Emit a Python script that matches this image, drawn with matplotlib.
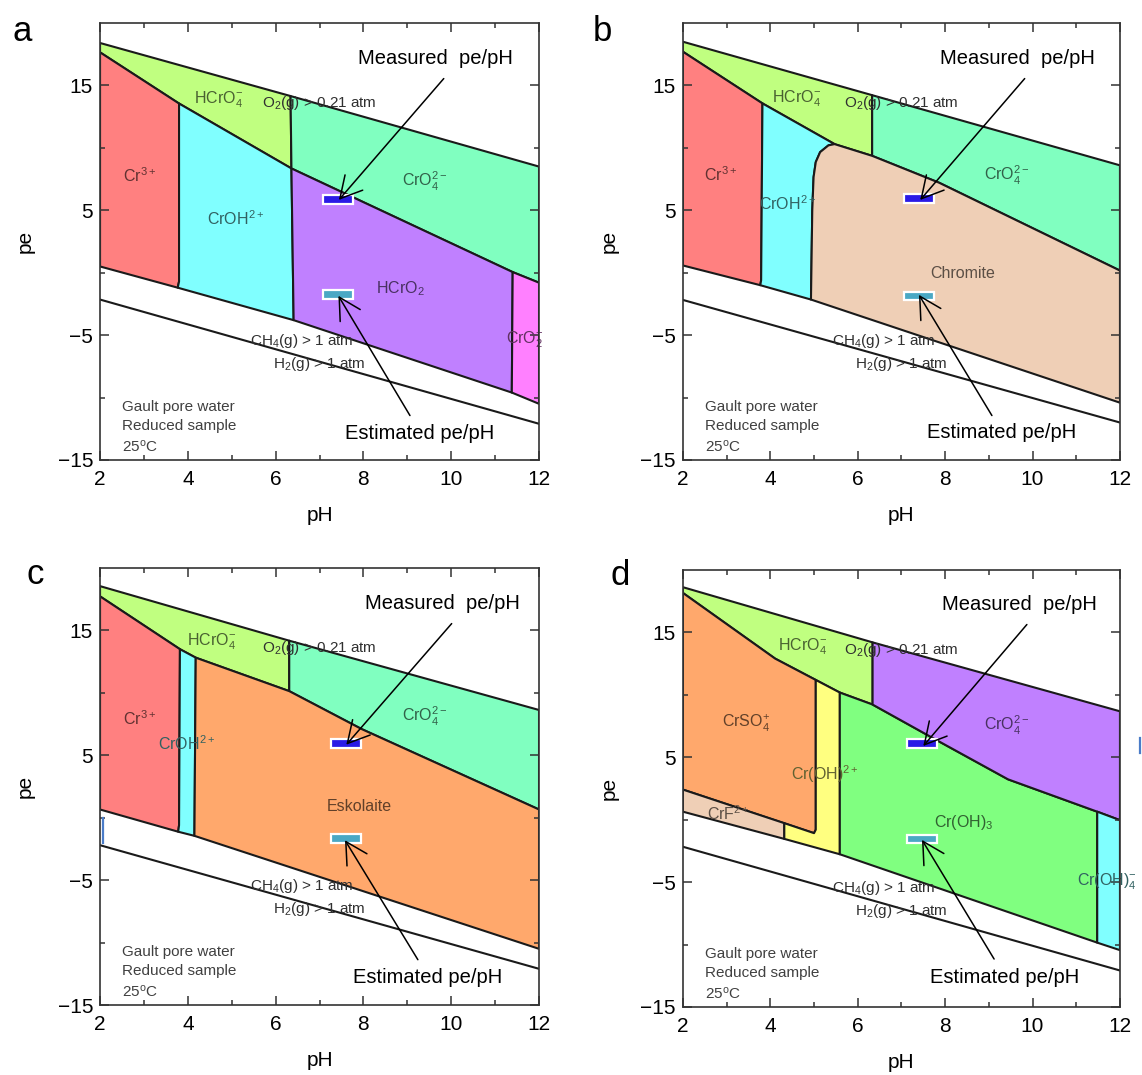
import matplotlib
matplotlib.use('Agg')
import matplotlib.pyplot as plt
import matplotlib.colors as mcolors
from matplotlib.patches import Polygon, Rectangle
from matplotlib.ticker import FixedLocator
from matplotlib.lines import Line2D

plt.rcParams['font.family'] = ['Liberation Sans', 'DejaVu Sans']
plt.rcParams['mathtext.fontset'] = 'custom'
plt.rcParams['mathtext.rm'] = 'Liberation Sans'
plt.rcParams['mathtext.it'] = 'Liberation Sans'
plt.rcParams['mathtext.default'] = 'regular'

# ---------------- axes / ticks ----------------
PH_LIM = (2, 12)
PE_LIM = (-15, 20)
PH_MAJOR = [2, 4, 6, 8, 10, 12]
PH_MINOR = [3, 5, 7, 9, 11]
PE_MAJOR = [-15, -5, 5, 15]
PE_MINOR = [-10, 0, 10]

# ---------------- colours ----------------
C_CR3 = '#FF8080'
C_HCRO4 = '#C0FF80'
C_CROH = '#80FFFF'
C_CRO4 = '#80FFC0'
C_HCRO2 = '#C080FF'
C_CRO2 = '#FF80FF'
C_CHROMITE = '#EFCFB6'
C_ESK = '#FFA86C'
C_CRSO4 = '#FFA86C'
C_CRF = '#EFCFB6'
C_CROH2 = '#FFFF80'
C_CROH3 = '#80FF80'
C_CRO4_D = '#C080FF'
C_CROH4 = '#80FFFF'
C_MEAS = '#2A1AE6'
C_EST = '#4AA8C4'

# ---------------- panel a : field boundaries (pH, pe) ----------------
A_HCRO4 = [(2.0, 18.4), (6.34, 14.15), (6.36, 8.35), (3.8, 13.55), (2.0, 17.65)]
A_CR3 = [(2.0, 17.65), (3.8, 13.55), (3.8, -0.7), (3.77, -1.2), (2.0, 0.5)]
A_CROH = [(3.8, 13.55), (6.36, 8.35), (6.41, -3.8), (3.77, -1.2), (3.8, -0.7)]
A_CRO4 = [(6.34, 14.15), (12.0, 8.5), (12.0, -0.8), (11.4, 0.05), (6.36, 8.35)]
A_HCRO2 = [(6.36, 8.35), (11.4, 0.05), (11.38, -9.6), (6.41, -3.8)]
A_CRO2 = [(11.4, 0.05), (12.0, -0.8), (12.0, -10.5), (11.38, -9.6)]
A_H2 = [(2.0, -2.15), (12.0, -12.1)]

# ---------------- panel b ----------------
B_HCRO4 = [(2.0, 18.5), (6.33, 14.22), (6.33, 9.36), (5.47, 10.3), (3.82, 13.56), (2.0, 17.7)]
B_CR3 = [(2.0, 17.7), (3.82, 13.56), (3.79, -0.6), (3.77, -1.0), (2.0, 0.58)]
B_CROH = [(3.82, 13.56), (5.47, 10.3), (5.33, 10.2), (5.14, 9.66), (5.04, 8.86),
          (4.99, 7.66), (4.96, 5.0), (4.93, -2.15), (3.77, -1.0), (3.79, -0.6)]
B_CRO4 = [(6.33, 14.22), (12.0, 8.6), (12.0, 0.17), (7.86, 7.21), (6.33, 9.36)]
B_CHROMITE = [(5.47, 10.3), (6.33, 9.36), (7.86, 7.21), (12.0, 0.17), (12.0, -10.41),
              (4.93, -2.15), (4.96, 5.0), (4.99, 7.66), (5.04, 8.86), (5.14, 9.66), (5.33, 10.2)]
B_H2 = [(2.0, -2.18), (12.0, -12.0)]

# ---------------- panel c ----------------
C_HCRO4_P = [(2.0, 18.55), (6.31, 14.18), (6.31, 10.14), (4.18, 12.82), (3.82, 13.5), (2.0, 17.73)]
C_CR3_P = [(2.0, 17.73), (3.82, 13.5), (3.8, -0.6), (3.78, -1.12), (2.0, 0.66)]
C_CROH_P = [(3.82, 13.5), (4.18, 12.82), (4.15, -1.45), (3.78, -1.12), (3.8, -0.6)]
C_CRO4_P = [(6.31, 14.18), (12.0, 8.63), (12.0, 0.66), (7.96, 7.1), (6.31, 10.14)]
C_ESK_P = [(4.18, 12.82), (6.31, 10.14), (7.96, 7.1), (12.0, 0.66), (12.0, -10.5), (4.15, -1.45)]
C_H2 = [(2.0, -2.2), (12.0, -12.1)]
C_MARK = [(2.06, 0.0), (2.06, -2.0)]

# ---------------- panel d ----------------
D_HCRO4 = [(2.0, 18.62), (6.34, 14.2), (6.34, 9.22), (5.59, 10.18), (5.04, 11.19), (4.11, 12.9), (2.0, 18.16)]
D_CRSO4 = [(2.0, 18.16), (4.11, 12.9), (5.04, 11.19), (5.04, -0.8), (5.0, -1.08), (2.0, 2.41)]
D_CRF = [(2.0, 2.41), (4.32, -0.28), (4.32, -1.54), (2.0, 0.64)]
D_CROH2 = [(5.04, 11.19), (5.59, 10.18), (5.59, -2.77), (4.32, -1.54), (4.32, -0.28), (5.0, -1.08), (5.04, -0.8)]
D_CROH3 = [(5.59, 10.18), (6.34, 9.22), (7.78, 6.42), (9.44, 3.23), (11.48, 0.64), (11.48, -9.85), (5.59, -2.77)]
D_CRO4 = [(6.34, 14.2), (12.0, 8.68), (12.0, -0.04), (11.48, 0.64), (9.44, 3.23), (7.78, 6.42), (6.34, 9.22)]
D_CROH4 = [(11.48, 0.64), (12.0, -0.04), (12.0, -10.45), (11.48, -9.85)]
D_H2 = [(2.0, -2.17), (12.0, -12.08)]

# ---------------- field labels (text, pH, pe, colour) ----------------
A_LABELS = [(r'Cr$^{3+}$', 2.89, 7.8, C_CR3), (r'CrOH$^{2+}$', 5.08, 4.36, C_CROH),
            (r'HCrO$_4^{-}$', 4.69, 13.84, C_HCRO4), (r'CrO$_4^{2-}$', 9.39, 7.35, C_CRO4),
            (r'HCrO$_2$', 8.83, -1.27, C_HCRO2), (r'CrO$_2^{-}$', 11.67, -5.36, C_CRO2)]
B_LABELS = [(r'Cr$^{3+}$', 2.86, 7.82, C_CR3), (r'CrOH$^{2+}$', 4.4, 5.55, C_CROH),
            (r'HCrO$_4^{-}$', 4.61, 13.92, C_HCRO4), (r'CrO$_4^{2-}$', 9.4, 7.82, C_CRO4),
            ('Chromite', 8.4, -0.06, C_CHROMITE)]
C_LABELS = [(r'Cr$^{3+}$', 2.89, 7.9, C_CR3), (r'CrOH$^{2+}$', 3.96, 5.93, C_CROH),
            (r'HCrO$_4^{-}$', 4.54, 14.1, C_HCRO4), (r'CrO$_4^{2-}$', 9.39, 8.09, C_CRO4),
            ('Eskolaite', 7.9, 0.93, C_ESK)]
D_LABELS = [(r'CrSO$_4^{+}$', 3.44, 7.72, C_CRSO4), (r'Cr(OH)$^{2+}$', 5.25, 3.64, C_CROH2),
            (r'CrF$^{2+}$', 3.03, 0.5, C_CRF), (r'HCrO$_4^{-}$', 4.73, 13.86, C_HCRO4),
            (r'Cr(OH)$_3$', 8.43, -0.26, C_CROH3), (r'CrO$_4^{2-}$', 9.4, 7.59, C_CRO4_D),
            (r'Cr(OH)$_4^{-}$', 11.69, -4.95, C_CROH4)]

GAS_LABELS = [(r'O$_2$(g) > 0.21 atm', 7.0, 13.62), (r'CH$_4$(g) > 1 atm', 6.6, -5.47),
              (r'H$_2$(g) > 1 atm', 7.0, -7.28)]
NOTE_LINES = ['Gault pore water', 'Reduced sample', r'25$^{o}$C']
NOTE_POS = (2.5, [-10.75, -12.3, -13.9])

# ---------------- measured / estimated pe-pH boxes (pH lo, pH hi, pe lo, pe hi) ----------------
MEAS_BOX = {'a': (7.08, 7.76, 5.5, 6.19), 'b': (7.07, 7.75, 5.6, 6.3),
            'c': (7.26, 7.94, 5.6, 6.34), 'd': (7.13, 7.82, 5.74, 6.44)}
EST_BOX = {'a': (7.08, 7.76, -2.07, -1.35), 'b': (7.07, 7.75, -2.18, -1.52),
           'c': (7.26, 7.94, -2.02, -1.31), 'd': (7.13, 7.82, -1.89, -1.19)}
# annotation: (text pH, text pe, tail pH, tail pe, head pH, head pe)
MEAS_ARROW = {'a': (9.64, 17.15, 9.83, 15.55, 7.44, 5.83), 'b': (9.65, 17.15, 9.82, 15.55, 7.43, 5.83),
              'c': (9.8, 17.13, 10.01, 15.55, 7.61, 5.85), 'd': (9.71, 17.2, 9.87, 15.63, 7.5, 5.9)}
EST_ARROW = {'a': (9.27, -12.9, 9.06, -11.44, 7.43, -1.85), 'b': (9.3, -12.82, 9.07, -11.44, 7.4, -1.77),
             'c': (9.47, -12.81, 9.24, -11.37, 7.58, -1.8), 'd': (9.36, -12.66, 9.12, -11.16, 7.47, -1.62)}

PANELS = {
    'a': dict(rect=[0.0876, 0.5721, 0.3844, 0.4065], letter=(12, 41),
              fields=[(A_HCRO4, C_HCRO4), (A_CR3, C_CR3), (A_CROH, C_CROH), (A_CRO4, C_CRO4),
                      (A_HCRO2, C_HCRO2), (A_CRO2, C_CRO2)], h2=A_H2, labels=A_LABELS),
    'b': dict(rect=[0.598, 0.5721, 0.3827, 0.4065], letter=(593, 41),
              fields=[(B_HCRO4, C_HCRO4), (B_CR3, C_CR3), (B_CROH, C_CROH), (B_CRO4, C_CRO4),
                      (B_CHROMITE, C_CHROMITE)], h2=B_H2, labels=B_LABELS),
    'c': dict(rect=[0.0876, 0.0651, 0.3844, 0.4065], letter=(26, 584),
              fields=[(C_HCRO4_P, C_HCRO4), (C_CR3_P, C_CR3), (C_CROH_P, C_CROH), (C_CRO4_P, C_CRO4),
                      (C_ESK_P, C_ESK)], h2=C_H2, labels=C_LABELS),
    'd': dict(rect=[0.598, 0.0633, 0.3827, 0.4065], letter=(611, 585),
              fields=[(D_HCRO4, C_HCRO4), (D_CRSO4, C_CRSO4), (D_CRF, C_CRF), (D_CROH2, C_CROH2),
                      (D_CROH3, C_CROH3), (D_CRO4, C_CRO4_D), (D_CROH4, C_CROH4)], h2=D_H2, labels=D_LABELS),
}

W, H = 1142, 1075
fig = plt.figure(figsize=(W / 100, H / 100), dpi=100)

LINE_C = '#1a1a1a'
LINE_W = 1.5


def dark(c, f=0.38):
    r, g, b = mcolors.to_rgb(c)
    return (r * f, g * f, b * f)


for key, p in PANELS.items():
    ax = fig.add_axes(p['rect'])
    ax.set_xlim(*PH_LIM)
    ax.set_ylim(*PE_LIM)
    for verts, col in p['fields']:
        ax.add_patch(Polygon(verts, closed=True, facecolor=col, edgecolor=LINE_C,
                             lw=LINE_W, joinstyle='round', zorder=1))
    hx, hy = zip(*p['h2'])
    ax.plot(hx, hy, color=LINE_C, lw=LINE_W, zorder=1.5)

    for txt, x, y, col in p['labels']:
        ax.text(x, y, txt, ha='center', va='center', fontsize=11.5, color=dark(col),
                zorder=3, clip_on=False)
    for txt, x, y in GAS_LABELS:
        ax.text(x, y, txt, ha='center', va='center', fontsize=11, color='#303030', zorder=3)
    for txt, y in zip(NOTE_LINES, NOTE_POS[1]):
        ax.text(NOTE_POS[0], y, txt, ha='left', va='center', fontsize=11, color='#404040', zorder=3)

    for box, col in ((MEAS_BOX[key], C_MEAS), (EST_BOX[key], C_EST)):
        ax.add_patch(Rectangle((box[0], box[2]), box[1] - box[0], box[3] - box[2],
                               facecolor=col, edgecolor='white', lw=1.6, zorder=4))

    for arr, label in ((MEAS_ARROW[key], 'Measured  pe/pH'), (EST_ARROW[key], 'Estimated pe/pH')):
        ax.text(arr[0], arr[1], label, ha='center', va='center', fontsize=14.5, color='black', zorder=6)
        ax.annotate('', xy=(arr[4], arr[5]), xytext=(arr[2], arr[3]),
                    arrowprops=dict(arrowstyle='->,head_length=1.1,head_width=0.6',
                                    lw=1.1, color='black', shrinkA=0, shrinkB=0,
                                    mutation_scale=14),
                    zorder=6)

    if key == 'c':
        mx, my = zip(*C_MARK)
        ax.plot(mx, my, color='#4A7CC8', lw=1.6, zorder=5, clip_on=False)

    ax.xaxis.set_major_locator(FixedLocator(PH_MAJOR))
    ax.xaxis.set_minor_locator(FixedLocator(PH_MINOR))
    ax.yaxis.set_major_locator(FixedLocator(PE_MAJOR))
    ax.yaxis.set_minor_locator(FixedLocator(PE_MINOR))
    ax.tick_params(which='both', direction='in', top=True, right=True, width=1.1,
                   color='#333333', labelsize=15)
    ax.tick_params(which='major', length=6.5)
    ax.tick_params(which='minor', length=3.5)
    ax.tick_params(axis='x', pad=7)
    ax.tick_params(axis='y', pad=5)
    for s in ax.spines.values():
        s.set_linewidth(1.2)
        s.set_color('#333333')
        s.set_zorder(5)
    ax.set_xlabel('pH', fontsize=15)
    ax.set_ylabel('pe', fontsize=15)
    ax.xaxis.set_label_coords(0.5, -0.105)
    ax.yaxis.set_label_coords(-0.148, 0.5)

    lx, ly = p['letter']
    fig.text(lx / W, 1 - ly / H, key, fontsize=25, ha='left', va='baseline', color='black')

fig.add_artist(Line2D([1140 / W, 1140 / W], [1 - 738 / H, 1 - 753 / H], color='#4A7CC8', lw=1.6))

fig.savefig('out.png', dpi=100)
